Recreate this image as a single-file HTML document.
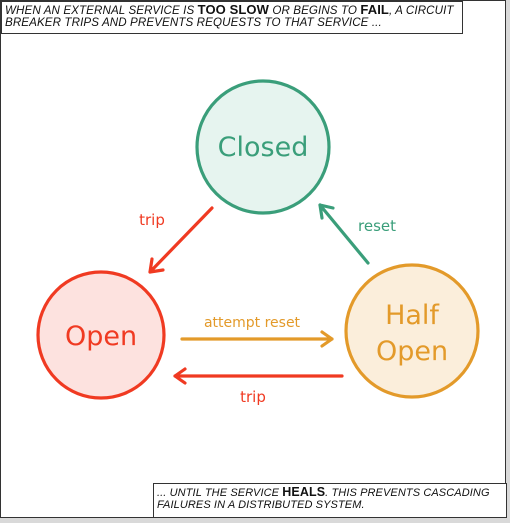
<!DOCTYPE html>
<html><head><meta charset="utf-8"><style>
html,body{margin:0;padding:0;width:510px;height:523px;overflow:hidden;background:#d9d9d9}
.frame{position:absolute;left:0;top:0;width:506px;height:518px;background:#fff;border:1px solid #333;box-sizing:border-box}
.cap{position:absolute;background:#fff;border:1.5px solid #333;box-sizing:border-box;font-family:"Liberation Sans",sans-serif;font-style:italic;font-size:11.6px;line-height:12px;color:#111;padding:2px 3px;letter-spacing:0.1px;white-space:nowrap;overflow:hidden}
.cap b{font-size:13px;font-style:normal}
svg{position:absolute;left:0;top:0}
text{font-family:"DejaVu Sans",sans-serif;font-weight:normal}
</style></head><body>
<div class="frame"></div>
<div class="cap" style="left:1px;top:1px;width:462px;height:33px">WHEN AN EXTERNAL SERVICE IS <b>TOO SLOW</b> OR BEGINS TO <b>FAIL</b>, A CIRCUIT<br>BREAKER TRIPS AND PREVENTS REQUESTS TO THAT SERVICE ...</div>
<div class="cap" style="left:153px;top:483px;width:354px;height:35px;font-size:11px"><span>... UNTIL THE SERVICE <b style="font-size:12.5px">HEALS</b>. THIS PREVENTS CASCADING<br>FAILURES IN A DISTRIBUTED SYSTEM.</span></div>
<svg width="510" height="523" viewBox="0 0 510 523">
<g stroke-width="3.2" stroke-linecap="round" fill="none">
<circle cx="263" cy="147" r="66" fill="#e6f4ef" stroke="#3a9e7a"/>
<circle cx="101" cy="335" r="63" fill="#fde2df" stroke="#f03a22"/>
<circle cx="412" cy="331" r="66" fill="#fbeedb" stroke="#e39a2a"/>
<path d="M212 208 L150 272 M150 272 L152 259 M150 272 L163 270" stroke="#f03a22"/>
<path d="M368 263 L320 205 M320 205 L322 218 M320 205 L333 208" stroke="#3a9e7a"/>
<path d="M182 339 L332 339 M332 339 L322 332 M332 339 L322 346" stroke="#e39a2a"/>
<path d="M342 376 L175 376 M175 376 L185 369 M175 376 L185 383" stroke="#f03a22"/>
</g>
<text x="263" y="156" font-size="27" fill="#3a9e7a" text-anchor="middle">Closed</text>
<text x="101" y="345" font-size="27" fill="#f03a22" text-anchor="middle">Open</text>
<text x="412" y="324" font-size="27" fill="#e39a2a" text-anchor="middle">Half</text>
<text x="412" y="360" font-size="27" fill="#e39a2a" text-anchor="middle">Open</text>
<text x="152" y="225" font-size="15" fill="#f03a22" text-anchor="middle">trip</text>
<text x="377" y="231" font-size="15" fill="#3a9e7a" text-anchor="middle">reset</text>
<text x="252" y="327" font-size="14" fill="#e39a2a" text-anchor="middle">attempt reset</text>
<text x="253" y="402" font-size="15" fill="#f03a22" text-anchor="middle">trip</text>
</svg>
</body></html>
